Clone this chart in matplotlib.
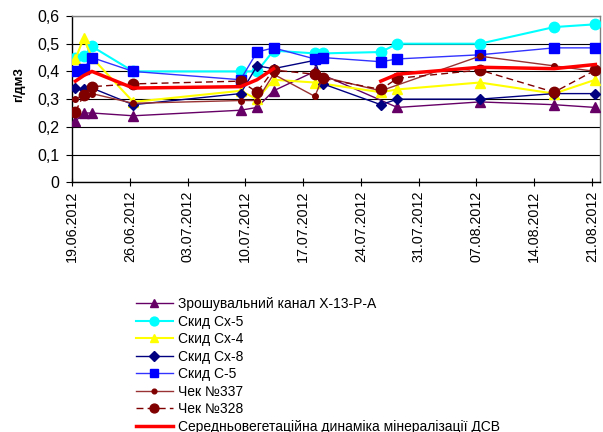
import numpy as np
import pandas as pd
import matplotlib
matplotlib.use("Agg")
import matplotlib.pyplot as plt
import matplotlib.dates as mdates

plt.rcParams['font.family'] = ['Liberation Sans', 'DejaVu Sans']

dates = ["19.06.2012", "20.06.2012", "21.06.2012", "26.06.2012", "09.07.2012",
         "11.07.2012", "13.07.2012", "18.07.2012", "19.07.2012", "26.07.2012",
         "28.07.2012", "07.08.2012", "16.08.2012", "21.08.2012"]

canal = [0.22, 0.25, 0.25, 0.24, 0.26, 0.27, 0.33, 0.40, None, None, 0.27, 0.29, 0.28, 0.27]
cx5 = [0.45, 0.455, 0.49, 0.40, 0.40, 0.40, 0.475, 0.465, 0.465, 0.47, 0.50, 0.50, 0.56, 0.57]
cx4 = [0.445, 0.52, 0.45, 0.29, 0.33, 0.30, 0.37, 0.36, None, 0.325, 0.335, 0.36, 0.32, 0.37]
cx8 = [0.34, 0.335, 0.34, 0.28, 0.32, 0.42, 0.41, 0.44, 0.355, 0.28, 0.30, 0.30, 0.32, 0.32]
c5 = [0.40, 0.41, 0.45, 0.40, 0.37, 0.47, 0.485, 0.445, 0.45, 0.435, 0.445, 0.46, 0.485, 0.485]
chek337 = [0.30, 0.315, 0.32, 0.285, 0.295, 0.295, 0.39, 0.31, 0.38, 0.33, None, 0.455, 0.42, 0.40]
chek328 = [0.255, 0.315, 0.345, 0.355, 0.365, 0.325, 0.405, 0.39, 0.375, 0.335, 0.375, 0.405, 0.325, 0.405]
mean_dsv = [0.365, 0.385, 0.40, 0.34, 0.345, 0.37, 0.41, None, None, 0.365, 0.39, 0.415, 0.41, 0.425]

labels = ["Зрошувальний канал Х-13-Р-А", "Скид Сх-5", "Скид Сх-4", "Скид Сх-8",
          "Скид С-5", "Чек №337", "Чек №328",
          "Середньовегетаційна динаміка мінералізації ДСВ"]

tick_dates = ["19.06.2012", "26.06.2012", "03.07.2012", "10.07.2012", "17.07.2012",
              "24.07.2012", "31.07.2012", "07.08.2012", "14.08.2012", "21.08.2012"]

x = pd.to_datetime(dates, format="%d.%m.%Y") + pd.Timedelta(hours=10)
ticks = pd.to_datetime(tick_dates, format="%d.%m.%Y")

fig = plt.figure(figsize=(6.03, 4.32), dpi=100)
ax = fig.add_axes([0.1194, 0.578, 0.876, 0.385])


def draw(vals, label, keep_gaps=False, **kw):
    s = pd.Series(np.array(vals, dtype=float), index=x)
    if not keep_gaps:
        s = s.dropna()
    ax.plot(s.index, s.values, label=label, **kw)


draw(canal, labels[0], color='#660066', lw=1, marker='^', ms=7.5, mfc='#660066', mec='#660066', zorder=3)
draw(cx5, labels[1], color='#00FFFF', lw=1.5, marker='o', ms=7.5, mfc='#00FFFF', mec='#00FFFF', zorder=3)
draw(cx4, labels[2], color='#FFFF00', lw=1.5, marker='^', ms=7.5, mfc='#FFFF00', mec='#FFFF00', zorder=3)
draw(cx8, labels[3], color='#000080', lw=1, marker='D', ms=5.5, mfc='#000080', mec='#000080', zorder=3)
draw(c5, labels[4], color='#3333FF', lw=1, marker='s', ms=7, mfc='#0000FF', mec='#0000FF', zorder=3)
draw(chek337, labels[5], color='#993333', lw=1, marker='o', ms=4, mfc='#800000', mec='#800000', zorder=3)
draw(chek328, labels[6], color='#800000', lw=1, ls=(0, (5, 3)), marker='o', ms=7.5, mfc='#800000', mec='#800000', zorder=3)
draw(mean_dsv, labels[7], keep_gaps=True, color='#FF0000', lw=2.5, zorder=4)

ax.set_ylim(0, 0.6)
ax.set_yticks(np.arange(0, 0.61, 0.1))
ax.set_yticklabels([f"{v:.1f}".replace(".", ",") if v > 0 else "0" for v in np.arange(0, 0.61, 0.1)],
                   fontsize=11.5)
ax.set_xlim(ticks[0], ticks[0] + pd.Timedelta(days=64))
ax.set_xticks(ticks)
ax.xaxis.set_major_formatter(mdates.DateFormatter("%d.%m.%Y"))
plt.setp(ax.get_xticklabels(), rotation=90, fontsize=10.3)
ax.set_ylabel("г/дм3", fontsize=9.5, fontweight='bold')
ax.yaxis.set_label_coords(-0.088, 0.59)

ax.grid(axis='y', color='#000000', lw=0.8)
ax.set_axisbelow(True)
ax.spines['left'].set_color('black')
ax.spines['bottom'].set_color('black')
ax.spines['top'].set_color('#808080')
ax.spines['right'].set_color('#808080')
for sp in ax.spines.values():
    sp.set_linewidth(1)
ax.tick_params(axis='x', direction='inout', length=6, pad=3)
ax.tick_params(axis='y', direction='out', length=4, pad=5)

fig.legend(loc='upper left', bbox_to_anchor=(0.225, 0.312), frameon=False,
           fontsize=10, handlelength=2.7, labelspacing=0.25, handletextpad=0.35,
           borderaxespad=0, borderpad=0, markerscale=0.85)

fig.savefig("out.png", dpi=100)
